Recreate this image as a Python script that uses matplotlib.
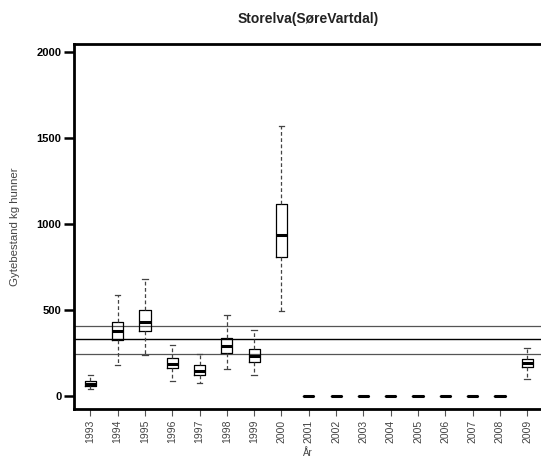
import matplotlib
matplotlib.use("Agg")
import matplotlib.pyplot as plt

plt.rcParams['font.family'] = ['Liberation Sans', 'DejaVu Sans']

years = [str(y) for y in range(1993, 2010)]
# box stats (kg)
wlo = [39, 178, 240, 89, 74, 155, 120, 496, 0, 0, 0, 0, 0, 0, 0, 0, 97]
q1 = [58, 326, 378, 161, 124, 248, 198, 810, 0, 0, 0, 0, 0, 0, 0, 0, 167]
med = [70, 376, 432, 186, 147, 292, 233, 938, 0, 0, 0, 0, 0, 0, 0, 0, 190]
q3 = [85, 432, 500, 219, 178, 339, 275, 1114, 0, 0, 0, 0, 0, 0, 0, 0, 215]
whi = [120, 589, 680, 298, 244, 473, 386, 1572, 0, 0, 0, 0, 0, 0, 0, 0, 281]

# reference lines
ref_outer = [407, 246]
ref_mid = 330

yticks = [0, 500, 1000, 1500, 2000]

fig = plt.figure(figsize=(5.41, 4.59), dpi=100)
ax = fig.add_axes([74 / 541, 1 - 408.5 / 459, 469.6 / 541, 364.5 / 459])

stats = []
for i in range(len(years)):
    stats.append(dict(whislo=wlo[i], q1=q1[i], med=med[i], q3=q3[i], whishi=whi[i], fliers=[]))

pos = list(range(1, len(years) + 1))
ax.bxp(stats, positions=pos, widths=0.41, showfliers=False,
       boxprops=dict(color='black', linewidth=0.9),
       medianprops=dict(color='black', linewidth=2.2),
       whiskerprops=dict(color='#444444', linewidth=0.9, linestyle=(0, (3, 2))),
       capprops=dict(color='#444444', linewidth=0.9),
       capwidths=0.2)

for v in ref_outer:
    ax.axhline(v, color='#555555', linewidth=0.9, zorder=0)
ax.axhline(ref_mid, color='black', linewidth=1.0, zorder=0)

ax.set_xlim(0.4, 17.6)
ax.set_ylim(-73, 2047)

ax.set_xticks(pos)
ax.set_xticklabels(years, rotation=90, fontsize=7.5, color='#444444')
ax.set_yticks(yticks)
ax.set_yticklabels([str(v) for v in yticks], fontsize=8, fontweight='bold')

ax.tick_params(axis='y', length=7, width=1.8, pad=2)
ax.tick_params(axis='x', length=5, width=0.8, color='#555555', pad=3)

for s in ['left', 'bottom', 'top']:
    ax.spines[s].set_linewidth(2)
ax.spines['right'].set_visible(False)

fig.text(308 / 541, 1 - 19 / 459, 'Storelva(SøreVartdal)', ha='center', va='center',
         fontsize=10, fontweight='bold', color='#222222')
fig.text(15 / 541, 1 - 227 / 459, 'Gytebestand kg hunner', rotation=90, ha='center', va='center',
         fontsize=8.2, color='#444444')
fig.text(308 / 541, 1 - 453 / 459, 'År', ha='center', va='center', fontsize=7, color='#444444')

fig.savefig('out.png', dpi=100)
